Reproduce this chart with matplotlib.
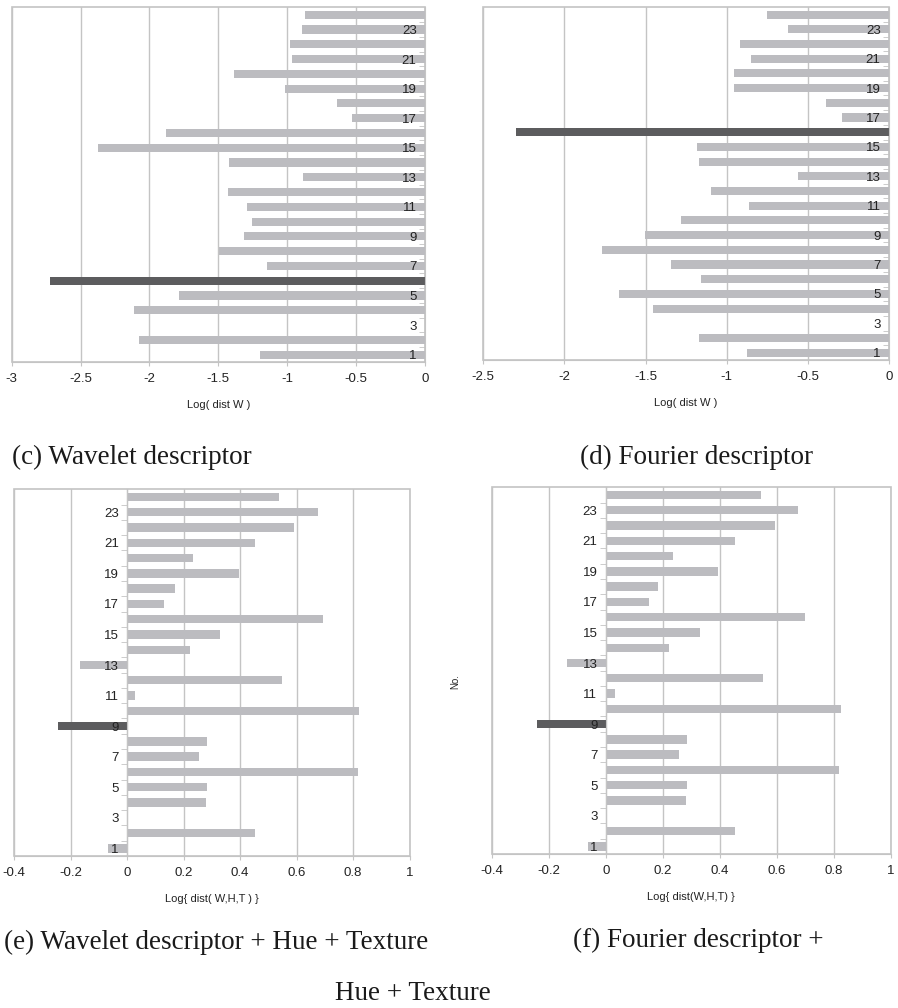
import numpy as np
import matplotlib
matplotlib.use("Agg")
import matplotlib.pyplot as plt

plt.rcParams['font.family'] = ['Liberation Sans', 'DejaVu Sans']
plt.rcParams['axes.unicode_minus'] = False

nums = list(range(1, 25))
ytick_labels = [str(n) for n in range(1, 24, 2)]

# log distances, image no. 1..24 (no. 3 = query, no bar)
wavelet = [-1.195, -2.073, np.nan, -2.110, -1.787, -2.721, -1.149, -1.495,
           -1.311, -1.258, -1.294, -1.427, -0.883, -1.420, -2.371, -1.877,
           -0.532, -0.639, -1.016, -1.384, -0.963, -0.980, -0.890, -0.871]
fourier = [-0.873, -1.169, np.nan, -1.452, -1.666, -1.161, -1.346, -1.771,
           -1.502, -1.284, -0.863, -1.099, -0.559, -1.169, -1.185, -2.297,
           -0.292, -0.390, -0.955, -0.955, -0.850, -0.918, -0.620, -0.750]
wavelet_ht = [-0.066, 0.453, np.nan, 0.279, 0.284, 0.817, 0.256, 0.284,
              -0.244, 0.822, 0.028, 0.548, -0.166, 0.221, 0.329, 0.693,
              0.129, 0.170, 0.396, 0.235, 0.453, 0.590, 0.676, 0.539]
fourier_ht = [-0.061, 0.454, np.nan, 0.283, 0.287, 0.820, 0.258, 0.287,
              -0.242, 0.826, 0.034, 0.553, -0.137, 0.223, 0.332, 0.698,
              0.151, 0.182, 0.394, 0.236, 0.454, 0.593, 0.676, 0.544]

highlight = {'c': 6, 'd': 16, 'e': 9, 'f': 9}

light = '#bcbcc0'
dark = '#5c5c5e'
grid_c = '#c4c4c4'

W, H = 898, 1008
fig = plt.figure(figsize=(W / 100, H / 100), dpi=100)


def box(l, r, t, b):
    return [l / W, 1 - b / H, (r - l) / W, (b - t) / H]


def panel(rect, vals, hl, xlim, xticks, xlabel, xticklabels, labelpad):
    ax = fig.add_axes(rect)
    colors = [dark if n == hl else light for n in nums]
    ax.barh(nums, vals, height=0.55, color=colors, zorder=2)
    ax.set_xlim(xlim)
    ax.set_ylim(0.5, 24.5)
    ax.set_xticks(xticks)
    ax.set_xticklabels(xticklabels)
    ax.set_axisbelow(True)
    ax.grid(axis='x', color=grid_c, lw=1)
    ax.yaxis.set_zorder(3)  # category labels on top of bars
    ax.patch.set_edgecolor(grid_c)
    ax.patch.set_linewidth(1.2)
    for s in ['top', 'right']:
        ax.spines[s].set_visible(False)
    ax.spines['bottom'].set_color(grid_c)
    ax.spines['left'].set_position(('data', 0))
    ax.spines['left'].set_color(grid_c)
    ax.set_yticks(range(1, 24, 2))
    ax.set_yticklabels(ytick_labels)
    ax.set_yticks(np.arange(1.5, 24.5, 1), minor=True)
    ax.tick_params(axis='y', which='major', length=0, pad=6,
                   labelsize=9.5, labelcolor='#222222')
    ax.tick_params(axis='y', which='minor', length=4, color=grid_c)
    ax.tick_params(axis='x', length=3, color=grid_c, pad=5,
                   labelsize=9.5, labelcolor='#222222')
    ax.set_xlabel(xlabel, fontsize=8, labelpad=labelpad, color='#222222')
    return ax


fmt1 = lambda ts: ['0' if t == 0 else ('%g' % t) for t in ts]

xt_c = [-3, -2.5, -2, -1.5, -1, -0.5, 0]
xt_d = [-2.5, -2, -1.5, -1, -0.5, 0]
xt_e = [-0.4, -0.2, 0, 0.2, 0.4, 0.6, 0.8, 1]

panel(box(11.7, 425, 7.3, 362), wavelet, highlight['c'], (-3, 0), xt_c,
      'Log( dist W )', fmt1(xt_c), 11)
panel(box(483.3, 889, 7.3, 360), fourier, highlight['d'], (-2.5, 0), xt_d,
      'Log( dist W )', fmt1(xt_d), 11)
panel(box(14, 409.7, 489.3, 856), wavelet_ht, highlight['e'], (-0.4, 1), xt_e,
      'Log{ dist( W,H,T ) }', fmt1(xt_e), 11)
ax_f = panel(box(491.7, 890.7, 487.3, 854), fourier_ht, highlight['f'], (-0.4, 1), xt_e,
             'Log{ dist(W,H,T) }', fmt1(xt_e), 11)
ax_f.set_ylabel('No.', fontsize=7, color='#222222')
ax_f.yaxis.set_label_coords(-0.08, 0.47)

cap = dict(fontsize=19.5, family=['Liberation Serif', 'DejaVu Serif'], color='#1a1a1a',
           va='center')
fig.text(12 / W, 1 - 457 / H, '(c) Wavelet descriptor', ha='left', **cap)
fig.text(580 / W, 1 - 457 / H, '(d) Fourier descriptor', ha='left', **cap)
fig.text(4 / W, 1 - 942 / H, '(e) Wavelet descriptor + Hue + Texture', ha='left', **cap)
fig.text(573 / W, 1 - 940 / H, '(f) Fourier descriptor +', ha='left', **cap)
fig.text(335 / W, 1 - 994 / H, 'Hue + Texture', ha='left', **cap)

fig.savefig('out.png', dpi=100)
